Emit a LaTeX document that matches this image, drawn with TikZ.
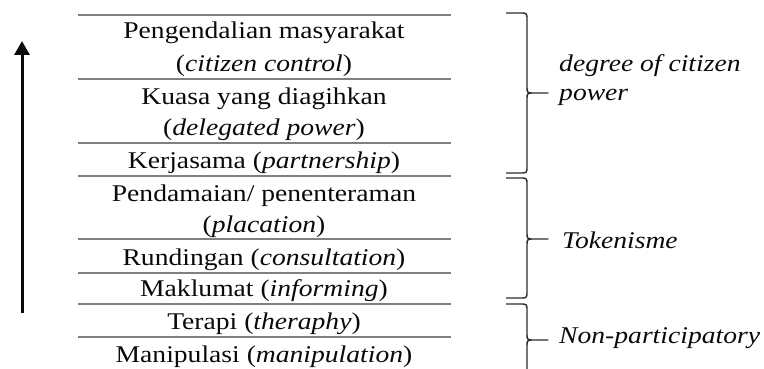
\documentclass[tikz,border=0pt]{standalone}
\usepackage{fontspec}
\setmainfont[FakeStretch=1.15]{Liberation Serif}
\usetikzlibrary{arrows.meta}
\definecolor{rulegray}{RGB}{128,128,128}
\definecolor{ink}{RGB}{10,10,10}
\definecolor{bracegray}{RGB}{45,45,45}
\tikzset{
  rung/.style={draw=rulegray, line width=2pt},
  thinrung/.style={draw=rulegray, line width=1.3pt},
  rowtext/.style={anchor=base, inner sep=0pt, text=ink, font=\fontsize{24}{33}\selectfont},
  sidetext/.style={anchor=base west, inner sep=0pt, text=ink, font=\fontsize{24}{33}\selectfont\itshape},
  bracket/.style={draw=bracegray, line width=1.4pt, line join=round},
}
% brace: #1 top y, #2 middle y, #3 bottom y
\newcommand{\wordbrace}[3]{%
  \draw[bracket] (506,#1) -- (520,#1) .. controls (527,#1) .. (527,#1+7)
    -- (527,#2-6) .. controls (527,#2) .. (535,#2) -- (548,#2)
    -- (535,#2) .. controls (527,#2) .. (527,#2+6)
    -- (527,#3-7) .. controls (527,#3) .. (520,#3) -- (506,#3);}
\begin{document}
\begin{tikzpicture}[x=1pt, y=-1pt]
\useasboundingbox (0,0) rectangle (764,369);
\clip (0,0) rectangle (764,369);
% rungs
\draw[rung] (78,15) -- (451,15);
\draw[thinrung] (78,79) -- (451,79);
\draw[rung] (78,143) -- (451,143);
\draw[rung] (78,176) -- (451,176);
\draw[rung] (78,239) -- (451,239);
\draw[rung] (78,273) -- (451,273);
\draw[rung] (78,304) -- (451,304);
\draw[rung] (78,337) -- (451,337);
% rows
\node[rowtext] (r1a) at (264,38.5) {Pengendalian masyarakat};
\node[rowtext] (r1b) at (264,72) {(\textit{citizen control})};
\node[rowtext] (r2a) at (264,104.5) {Kuasa yang diagihkan};
\node[rowtext] (r2b) at (264,135.5) {(\textit{delegated power})};
\node[rowtext] (r3) at (264,168) {Kerjasama (\textit{partnership})};
\node[rowtext] (r4a) at (264,201) {Pendamaian/ penenteraman};
\node[rowtext] (r4b) at (264,232) {(\textit{placation})};
\node[rowtext] (r5) at (264,265.5) {Rundingan (\textit{consultation})};
\node[rowtext] (r6) at (264,296.5) {Maklumat (\textit{informing})};
\node[rowtext] (r7) at (264,329) {Terapi (\textit{theraphy})};
\node[rowtext] (r8) at (264,362.5) {Manipulasi (\textit{manipulation})};
% arrow
\coordinate (abot) at (22,313);
\coordinate (atop) at (22,41);
\draw[draw=ink, line width=3pt, -{Triangle[width=15pt,length=14pt]}] (abot) -- (atop);
% braces
\wordbrace{13}{93}{173}
\wordbrace{178}{239}{298}
\wordbrace{304}{340}{376}
% labels
\node[sidetext] (l1a) at (559,72) {degree of citizen};
\node[sidetext] (l1b) at (559,100.5) {power};
\node[sidetext] (l2) at (562,248) {Tokenisme};
\node[sidetext] (l3) at (559,343) {Non-participatory};
\end{tikzpicture}
\end{document}
